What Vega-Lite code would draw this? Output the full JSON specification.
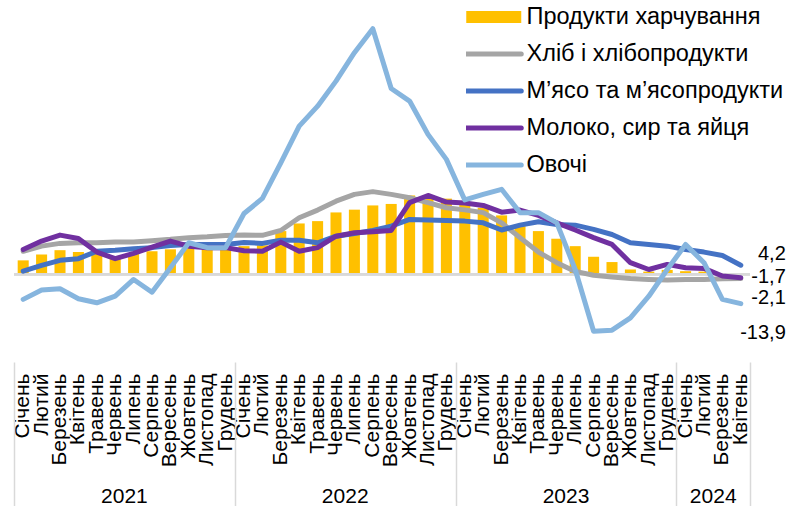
{
  "$schema": "https://vega.github.io/schema/vega-lite/v6.json",
  "width": 736,
  "height": 350,
  "autosize": {"type": "none"},
  "padding": {"left": 14, "top": 9, "right": 41, "bottom": 147},
  "background": "white",
  "config": {
    "font": "Liberation Sans",
    "view": {"stroke": null},
    "locale": {"number": {"decimal": ",", "thousands": " ", "grouping": [3], "currency": ["", ""], "minus": "-"}},
    "axis": {"labelFont": "Liberation Sans", "labelColor": "#000000", "grid": false, "title": null},
    "legend": {"labelFont": "Liberation Sans", "labelColor": "#000000"}
  },
  "data": {
    "values": [
      {"m": "2021-01", "food": 6.5, "bread": 10.8, "meat": 1.4, "milk": 11.6, "veg": -11.9},
      {"m": "2021-02", "food": 9.3, "bread": 13.2, "meat": 4.1, "milk": 15.6, "veg": -7.5},
      {"m": "2021-03", "food": 11.3, "bread": 14.5, "meat": 6.5, "milk": 18.4, "veg": -6.9},
      {"m": "2021-04", "food": 10.4, "bread": 14.8, "meat": 7.3, "milk": 16.8, "veg": -11.6},
      {"m": "2021-05", "food": 9.8, "bread": 14.8, "meat": 10.8, "milk": 10.4, "veg": -13.5},
      {"m": "2021-06", "food": 8.3, "bread": 15.1, "meat": 11.3, "milk": 7.3, "veg": -10.4},
      {"m": "2021-07", "food": 9.8, "bread": 15.2, "meat": 12.0, "milk": 9.8, "veg": -2.5},
      {"m": "2021-08", "food": 10.8, "bread": 15.8, "meat": 12.5, "milk": 12.7, "veg": -8.5},
      {"m": "2021-09", "food": 11.7, "bread": 16.4, "meat": 13.5, "milk": 15.6, "veg": 3.0},
      {"m": "2021-10", "food": 12.6, "bread": 17.2, "meat": 14.0, "milk": 13.2, "veg": 14.8},
      {"m": "2021-11", "food": 12.6, "bread": 17.6, "meat": 14.0, "milk": 12.5, "veg": 12.5},
      {"m": "2021-12", "food": 12.6, "bread": 18.2, "meat": 14.0, "milk": 12.5, "veg": 12.5},
      {"m": "2022-01", "food": 13.2, "bread": 18.4, "meat": 14.9, "milk": 11.0, "veg": 28.6},
      {"m": "2022-02", "food": 13.6, "bread": 18.3, "meat": 14.5, "milk": 10.8, "veg": 35.7},
      {"m": "2022-03", "food": 20.3, "bread": 20.6, "meat": 16.0, "milk": 15.1, "veg": 52.5},
      {"m": "2022-04", "food": 23.9, "bread": 26.6, "meat": 16.0, "milk": 10.8, "veg": 69.8},
      {"m": "2022-05", "food": 25.0, "bread": 30.2, "meat": 14.8, "milk": 12.5, "veg": 79.2},
      {"m": "2022-06", "food": 29.1, "bread": 34.4, "meat": 17.9, "milk": 17.9, "veg": 91.0},
      {"m": "2022-07", "food": 30.4, "bread": 37.6, "meat": 19.2, "milk": 19.5, "veg": 104.4},
      {"m": "2022-08", "food": 32.4, "bread": 38.9, "meat": 20.6, "milk": 20.0, "veg": 115.7},
      {"m": "2022-09", "food": 33.1, "bread": 37.6, "meat": 22.6, "milk": 20.6, "veg": 87.5},
      {"m": "2022-10", "food": 37.1, "bread": 36.0, "meat": 25.8, "milk": 33.7, "veg": 81.6},
      {"m": "2022-11", "food": 36.8, "bread": 33.7, "meat": 25.5, "milk": 37.1, "veg": 65.9},
      {"m": "2022-12", "food": 35.6, "bread": 31.3, "meat": 25.3, "milk": 34.0, "veg": 54.1},
      {"m": "2023-01", "food": 33.5, "bread": 30.3, "meat": 25.0, "milk": 33.5, "veg": 35.0},
      {"m": "2023-02", "food": 31.3, "bread": 29.0, "meat": 24.2, "milk": 32.4, "veg": 37.6},
      {"m": "2023-03", "food": 27.7, "bread": 24.2, "meat": 20.8, "milk": 29.2, "veg": 40.0},
      {"m": "2023-04", "food": 22.6, "bread": 17.2, "meat": 23.1, "milk": 30.2, "veg": 29.0},
      {"m": "2023-05", "food": 20.3, "bread": 10.4, "meat": 24.7, "milk": 27.7, "veg": 29.0},
      {"m": "2023-06", "food": 16.7, "bread": 5.4, "meat": 23.4, "milk": 24.2, "veg": 24.2},
      {"m": "2023-07", "food": 13.2, "bread": 1.3, "meat": 23.1, "milk": 20.8, "veg": 2.2},
      {"m": "2023-08", "food": 8.2, "bread": -0.5, "meat": 21.1, "milk": 17.2, "veg": -26.9},
      {"m": "2023-09", "food": 5.7, "bread": -1.3, "meat": 18.7, "milk": 14.0, "veg": -26.4},
      {"m": "2023-10", "food": 2.2, "bread": -2.1, "meat": 14.8, "milk": 5.4, "veg": -20.6},
      {"m": "2023-11", "food": 1.2, "bread": -2.5, "meat": 14.0, "milk": 2.2, "veg": -10.4},
      {"m": "2023-12", "food": 2.0, "bread": -2.8, "meat": 13.2, "milk": 4.6, "veg": 2.2},
      {"m": "2024-01", "food": 1.4, "bread": -2.5, "meat": 11.6, "milk": 3.0, "veg": 14.0},
      {"m": "2024-02", "food": 1.2, "bread": -2.5, "meat": 10.4, "milk": 2.7, "veg": 5.4},
      {"m": "2024-03", "food": 0.5, "bread": -2.2, "meat": 8.8, "milk": -0.9, "veg": -11.9},
      {"m": "2024-04", "food": -0.3, "bread": -2.1, "meat": 4.2, "milk": -1.7, "veg": -13.9}
    ]
  },
  "resolve": {"axis": {"x": "independent"}},
  "layer": [
    {
      "mark": {"type": "bar"},
      "encoding": {
        "x": {
          "field": "m", "type": "ordinal",
          "scale": {"paddingInner": 0.4, "paddingOuter": 0.2},
          "axis": {
            "orient": "bottom",
            "labelExpr": "['Січень','Лютий','Березень','Квітень','Травень','Червень','Липень','Серпень','Вересень','Жовтень','Листопад','Грудень'][toNumber(slice(datum.value,5,7))-1]",
            "labelAngle": -90, "labelAlign": "right", "labelBaseline": "middle",
            "labelPadding": 14, "labelFontSize": 21, "ticks": false, "domain": false,
            "labelOverlap": false, "labelBound": false
          }
        },
        "y": {"field": "food", "type": "quantitative", "scale": {"domain": [-40, 125], "nice": false, "zero": false}, "axis": null},
        "color": {
          "datum": "food", "type": "nominal",
          "scale": {"domain": ["food", "bread", "meat", "milk", "veg"], "range": ["#FFC000", "#A5A5A5", "#4472C4", "#7030A0", "#86B5DE"]},
          "legend": {
            "orient": "none", "legendX": 452, "legendY": -3, "title": null, "padding": 0,
            "symbolType": "stroke", "symbolSize": 3025, "symbolStrokeWidth": 5,
            "symbolOffset": 16, "labelOffset": 21, "labelLimit": 400,
            "labelFontSize": 23.5, "rowPadding": 13, "clipHeight": 22,
            "labelExpr": "{'food':'Продукти харчування','bread':'Хліб і хлібопродукти','meat':'М’ясо та м’ясопродукти','milk':'Молоко, сир та яйця','veg':'Овочі'}[datum.value]",
            "encode": {
              "symbols": {
                "update": {
                  "strokeWidth": {"signal": "datum.value === 'food' ? 12 : 5"},
                  "strokeCap": {"signal": "datum.value === 'food' ? 'butt' : 'round'"},
                  "stroke": {"signal": "scale('color', datum.value)"},
                  "fill": {"value": "transparent"},
                  "opacity": {"value": 1}
                }
              }
            }
          }
        }
      }
    },
    {
      "mark": {"type": "rule", "color": "#D9D9D9", "strokeWidth": 2},
      "encoding": {"y": {"datum": 0}}
    },
    {
      "transform": [{"fold": ["bread", "meat", "milk", "veg"], "as": ["key", "value"]}],
      "mark": {"type": "line", "strokeWidth": 5, "strokeCap": "round", "strokeJoin": "round"},
      "encoding": {
        "x": {
          "field": "m", "type": "ordinal",
          "axis": {
            "orient": "bottom",
            "values": ["2021-06", "2022-06", "2023-06", "2024-02"],
            "labelExpr": "slice(datum.value,0,4)",
            "labelAngle": 0, "labelAlign": "center", "labelBaseline": "top",
            "labelOffset": 9.2, "labelPadding": 126, "labelFontSize": 21,
            "ticks": false, "domain": false, "labelOverlap": false, "labelBound": false
          }
        },
        "y": {"field": "value", "type": "quantitative", "axis": null},
        "color": {
          "field": "key", "type": "nominal",
          "legend": {
            "orient": "none", "legendX": 452, "legendY": -3, "title": null, "padding": 0,
            "symbolType": "stroke", "symbolSize": 3025, "symbolStrokeWidth": 5,
            "symbolOffset": 16, "labelOffset": 21, "labelLimit": 400,
            "labelFontSize": 23.5, "rowPadding": 13, "clipHeight": 22,
            "labelExpr": "{'food':'Продукти харчування','bread':'Хліб і хлібопродукти','meat':'М’ясо та м’ясопродукти','milk':'Молоко, сир та яйця','veg':'Овочі'}[datum.value]"
          }
        }
      }
    },
    {
      "transform": [{"filter": "datum.m === '2024-04'"}],
      "mark": {"type": "text", "align": "right", "baseline": "middle", "dx": 45, "dy": -11, "fontSize": 20, "color": "#000000"},
      "encoding": {
        "x": {
          "field": "m", "type": "ordinal",
          "axis": {
            "orient": "bottom",
            "values": ["2021-01", "2022-01", "2023-01", "2024-01"],
            "labels": false, "domain": false, "ticks": true,
            "tickSize": 147, "tickColor": "#D9D9D9", "tickWidth": 1.5,
            "tickOffset": -9.2, "offset": 3
          }
        },
        "y": {"field": "meat", "type": "quantitative", "axis": null},
        "text": {"field": "meat", "type": "quantitative", "format": ".1f"}
      }
    },
    {
      "transform": [{"filter": "datum.m === '2024-04'"}],
      "mark": {"type": "text", "align": "right", "baseline": "middle", "dx": 45, "dy": -0.5, "fontSize": 20, "color": "#000000"},
      "encoding": {
        "x": {
          "field": "m", "type": "ordinal",
          "axis": {
            "orient": "bottom",
            "values": ["2024-04"],
            "labels": false, "domain": false, "ticks": true,
            "tickSize": 147, "tickColor": "#D9D9D9", "tickWidth": 1.5,
            "tickOffset": 9.2, "offset": 3
          }
        },
        "y": {"field": "milk", "type": "quantitative", "axis": null},
        "text": {"field": "milk", "type": "quantitative", "format": ".1f"}
      }
    },
    {
      "transform": [{"filter": "datum.m === '2024-04'"}],
      "mark": {"type": "text", "align": "right", "baseline": "middle", "dx": 45, "dy": 19.5, "fontSize": 20, "color": "#000000"},
      "encoding": {
        "x": {"field": "m", "type": "ordinal", "axis": null},
        "y": {"field": "bread", "type": "quantitative", "axis": null},
        "text": {"field": "bread", "type": "quantitative", "format": ".1f"}
      }
    },
    {
      "transform": [{"filter": "datum.m === '2024-04'"}],
      "mark": {"type": "text", "align": "right", "baseline": "middle", "dx": 45, "dy": 29, "fontSize": 20, "color": "#000000"},
      "encoding": {
        "x": {"field": "m", "type": "ordinal", "axis": null},
        "y": {"field": "veg", "type": "quantitative", "axis": null},
        "text": {"field": "veg", "type": "quantitative", "format": ".1f"}
      }
    }
  ]
}
